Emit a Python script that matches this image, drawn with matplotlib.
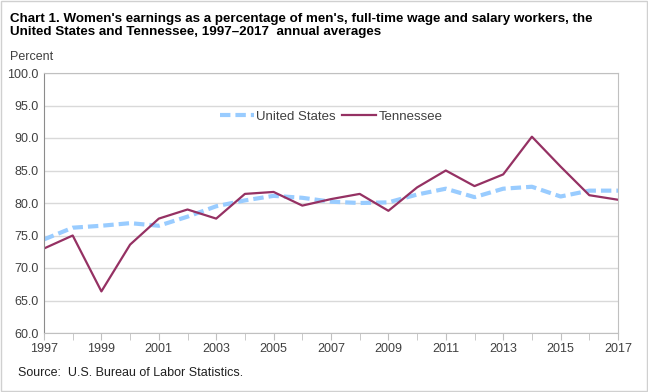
import matplotlib.pyplot as plt
from matplotlib.patches import Rectangle

plt.rcParams['font.family'] = ['Liberation Sans', 'DejaVu Sans']

# Data
years = list(range(1997, 2018))
united_states = [74.4, 76.2, 76.5, 76.9, 76.5, 77.9, 79.5, 80.4, 81.1, 80.8, 80.2,
                 80.0, 80.1, 81.3, 82.2, 80.9, 82.2, 82.5, 81.0, 81.9, 81.9]
tennessee = [73.0, 75.0, 66.4, 73.6, 77.6, 79.0, 77.6, 81.4, 81.7, 79.6, 80.6,
             81.4, 78.8, 82.4, 85.0, 82.6, 84.4, 90.2, 85.6, 81.2, 80.5]
x_labels = list(range(1997, 2018, 2))
y_ticks = [60, 65, 70, 75, 80, 85, 90, 95, 100]

fig = plt.figure(figsize=(6.48, 3.92), dpi=100)
ax = fig.add_axes([44 / 648, 1 - 333 / 392, 574 / 648, 260 / 392])

# outer border of the picture
fig.patches.append(Rectangle((0.002, 0.003), 0.996, 0.994, transform=fig.transFigure,
                             fill=False, edgecolor='#d0d0d0', linewidth=1))

ax.plot(years, united_states, color='#99ccff', linewidth=3, linestyle=(0, (2.5, 1.2)),
        label='United States')
ax.plot(years, tennessee, color='#953163', linewidth=1.6, label='Tennessee')

ax.set_xlim(1997, 2017)
ax.set_ylim(60, 100)
ax.set_yticks(y_ticks)
ax.set_yticklabels([f'{v:.1f}' for v in y_ticks])
ax.set_xticks(years, minor=True)
ax.set_xticks(x_labels)
ax.set_xticklabels([str(y) for y in x_labels])
ax.tick_params(axis='y', length=0, labelsize=9, colors='#404040', pad=4)
ax.tick_params(axis='x', which='both', length=5, color='#c0c0c0', labelsize=9,
               labelcolor='#404040', pad=2)
ax.grid(axis='y', color='#d9d9d9', linewidth=1)
ax.set_axisbelow(True)
for side in ['top', 'right', 'bottom']:
    ax.spines[side].set_color('#c0c0c0')
ax.spines['left'].set_color('#8c8c8c')

ax.legend(loc='upper center', bbox_to_anchor=(0.5, 0.90), ncol=2, frameon=False,
          fontsize=9.5, handlelength=2.6, columnspacing=0.5, handletextpad=0.15,
          labelcolor='#404040')

fig.text(10 / 648, 1 - 13 / 392,
         "Chart 1. Women's earnings as a percentage of men's, full-time wage and salary workers, the\n"
         "United States and Tennessee, 1997\u20132017  annual averages",
         fontsize=9.6, fontweight='bold', va='top', ha='left', linespacing=1.15)
fig.text(10 / 648, 1 - 57 / 392, 'Percent', fontsize=9, va='center', ha='left', color='#404040')
fig.text(18 / 648, 1 - 373 / 392, 'Source:  U.S. Bureau of Labor Statistics.', fontsize=9,
         va='center', ha='left', color='#202020')

fig.savefig('out.png', dpi=100)
